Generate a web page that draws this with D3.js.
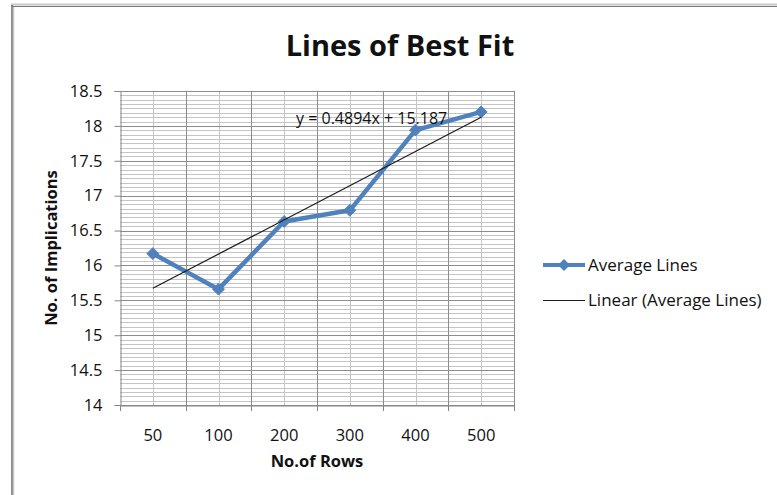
<!DOCTYPE html>
<html>
<head>
<meta charset="utf-8">
<script src="https://cdn.jsdelivr.net/npm/d3@7"></script>
<style>
  html, body { margin: 0; padding: 0; background: #fff; }
  svg { display: block; }
  text { font-family: "Open Sans", "Noto Sans", sans-serif; fill: #111; }
</style>
</head>
<body>
<svg id="chart" width="777" height="495"></svg>
<script>
// ---- data ----
const categories = ["50", "100", "200", "300", "400", "500"];
const averageLines = [16.17, 15.66, 16.63, 16.79, 17.94, 18.2];
const yTicks = [14, 14.5, 15, 15.5, 16, 16.5, 17, 17.5, 18, 18.5];
const titleText = "Lines of Best Fit";
const xTitle = "No.of Rows";
const yTitle = "No. of Implications";
const seriesName = "Average Lines";
const trendName = "Linear (Average Lines)";
const equationText = "y = 0.4894x + 15.187";

const svg = d3.select("#chart");
const W = 777, H = 495;
const plot = { left: 120, top: 91, right: 514, bottom: 405 };
const blue = "#4F81BD";

// outer frame
svg.append("rect").attr("x", 0).attr("y", 0).attr("width", W).attr("height", H).attr("fill", "#fff");
svg.append("line").attr("x1", 11).attr("y1", 4.5).attr("x2", W).attr("y2", 4.5).attr("stroke", "#c8c8c8").attr("stroke-width", 2);
svg.append("line").attr("x1", 12).attr("y1", 6.5).attr("x2", W).attr("y2", 6.5).attr("stroke", "#777").attr("stroke-width", 1.2);
svg.append("line").attr("x1", 12).attr("y1", 5).attr("x2", 12).attr("y2", H).attr("stroke", "#666").attr("stroke-width", 1.5);
svg.append("line").attr("x1", 13.5).attr("y1", 7).attr("x2", 13.5).attr("y2", H).attr("stroke", "#c8c8c8").attr("stroke-width", 1.5);

const x = d3.scaleBand().domain(categories).range([plot.left, plot.right]).padding(0);
const y = d3.scaleLinear().domain([14, 18.5]).range([plot.bottom, plot.top]);

// minor horizontal gridlines
const minorY = d3.range(0, 73).map(i => 14 + i * 0.0625);
svg.append("g").selectAll("line").data(minorY).join("line")
  .attr("x1", plot.left).attr("x2", plot.right)
  .attr("y1", d => Math.round(y(d)) + 0.5).attr("y2", d => Math.round(y(d)) + 0.5)
  .attr("stroke", "#c4c4c4").attr("stroke-width", 1);

// minor vertical gridlines (category centers)
svg.append("g").selectAll("line").data(categories).join("line")
  .attr("x1", d => Math.round(x(d) + x.bandwidth() / 2) + 0.5)
  .attr("x2", d => Math.round(x(d) + x.bandwidth() / 2) + 0.5)
  .attr("y1", plot.top).attr("y2", plot.bottom)
  .attr("stroke", "#c4c4c4").attr("stroke-width", 1);

// major horizontal gridlines
svg.append("g").selectAll("line").data(yTicks).join("line")
  .attr("x1", plot.left).attr("x2", plot.right)
  .attr("y1", d => Math.round(y(d)) + 0.5).attr("y2", d => Math.round(y(d)) + 0.5)
  .attr("stroke", "#8c8c8c").attr("stroke-width", 1);

// major vertical gridlines (category boundaries)
const bounds = categories.map(c => x(c)).concat([x(categories[categories.length - 1]) + x.bandwidth()]);
svg.append("g").selectAll("line").data(bounds.slice(1)).join("line")
  .attr("x1", d => Math.round(d) + 0.5).attr("x2", d => Math.round(d) + 0.5)
  .attr("y1", plot.top).attr("y2", plot.bottom)
  .attr("stroke", "#8c8c8c").attr("stroke-width", 1);

// y axis
const yAxis = d3.axisLeft(y).tickValues(yTicks).tickSize(6).tickPadding(12).tickFormat(d => String(d));
const gy = svg.append("g").attr("transform", `translate(${plot.left + 0.5},0)`).call(yAxis);
gy.select(".domain").attr("stroke", "#868686");
gy.selectAll(".tick line").attr("stroke", "#868686");
gy.selectAll(".tick text").attr("font-size", 16.5).attr("fill", "#111").attr("font-family", "Open Sans");

// x axis
const xAxis = d3.axisBottom(x).tickSize(0).tickPadding(24);
const gx = svg.append("g").attr("transform", `translate(0,${plot.bottom + 0.5})`).call(xAxis);
gx.select(".domain").attr("stroke", "#868686");
gx.selectAll(".tick text").attr("font-size", 16.5).attr("fill", "#111").attr("font-family", "Open Sans");
svg.append("g").selectAll("line").data(bounds).join("line")
  .attr("x1", d => Math.round(d) + 0.5).attr("x2", d => Math.round(d) + 0.5)
  .attr("y1", plot.bottom).attr("y2", plot.bottom + 6)
  .attr("stroke", "#868686");

// series line
const cx = c => x(c) + x.bandwidth() / 2;
const pts = categories.map((c, i) => ({ c, v: averageLines[i] }));
svg.append("path").datum(pts)
  .attr("d", d3.line().x(d => cx(d.c)).y(d => y(d.v)))
  .attr("fill", "none").attr("stroke", blue).attr("stroke-width", 4.5).attr("stroke-linejoin", "round");
const diamond = d3.symbol().type(d3.symbolDiamond2).size(90);
svg.append("g").selectAll("path").data(pts).join("path")
  .attr("transform", d => `translate(${cx(d.c)},${y(d.v)})`)
  .attr("d", diamond).attr("fill", blue).attr("stroke", blue).attr("stroke-width", 1);

// linear trend (least squares over x = 1..n)
const n = averageLines.length;
const xs = d3.range(1, n + 1);
const mx = d3.mean(xs), my = d3.mean(averageLines);
const slope = d3.sum(xs.map((xi, i) => (xi - mx) * (averageLines[i] - my))) / d3.sum(xs.map(xi => (xi - mx) ** 2));
const intercept = my - slope * mx;
svg.append("line")
  .attr("x1", cx(categories[0])).attr("y1", y(intercept + slope * 1))
  .attr("x2", cx(categories[n - 1])).attr("y2", y(intercept + slope * n))
  .attr("stroke", "#1a1a1a").attr("stroke-width", 1.2);

// equation label
svg.append("text").attr("x", 296).attr("y", 124).attr("font-size", 16).attr("fill", "#222").text(equationText);

// title
svg.append("text").attr("x", 400).attr("y", 56).attr("text-anchor", "middle")
  .attr("font-size", 29).attr("font-weight", "bold").text(titleText);

// axis titles
svg.append("text").attr("x", 317).attr("y", 467).attr("text-anchor", "middle")
  .attr("font-size", 16.5).attr("font-weight", "bold").text(xTitle);
svg.append("text").attr("transform", "translate(57,248) rotate(-90)").attr("text-anchor", "middle")
  .attr("font-size", 16.5).attr("font-weight", "bold").text(yTitle);

// legend
const lg = svg.append("g");
lg.append("line").attr("x1", 543).attr("x2", 585).attr("y1", 265).attr("y2", 265).attr("stroke", blue).attr("stroke-width", 4);
lg.append("path").attr("transform", "translate(564,265)").attr("d", diamond).attr("fill", blue);
lg.append("text").attr("x", 588).attr("y", 271).attr("font-size", 17).text(seriesName);
lg.append("line").attr("x1", 543).attr("x2", 585).attr("y1", 300.5).attr("y2", 300.5).attr("stroke", "#1a1a1a").attr("stroke-width", 1.2);
lg.append("text").attr("x", 588).attr("y", 306).attr("font-size", 17).text(trendName);
</script>
</body>
</html>
